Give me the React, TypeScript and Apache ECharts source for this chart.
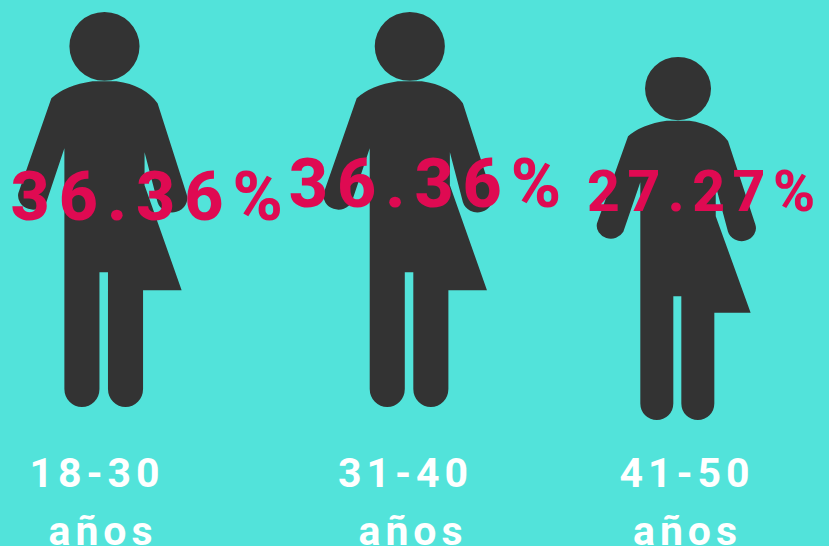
import React, { useEffect, useRef } from "react";
import * as echarts from "echarts";

const ageGroups = ["18-30", "31-40", "41-50"];
const unitLabel = "años";
const shares = [36.36, 36.36, 27.27];

const BG = "#52E3DA";
const FIGURE = "#333333";
const PINK = "#DF0A52";

const PERSON =
  "path://M140,46 A35,34.5 0 1 1 70,46 A35,34.5 0 1 1 140,46 Z " +
  "M93,81 L117,81 Q145,85 158,103 L187,194 A15,14 0 0 1 158,202 L145,152 L145,185 L182,290 L143.5,290 L143.5,389 " +
  "A17.5,18 0 0 1 108.5,389 L108.5,272 L100,272 L100,389 A17.5,18 0 0 1 65,389 L65,148 L47,202 " +
  "A15,14 0 0 1 19,193 L52,98 Q66,85 93,81 Z";

const figureW = [169, 169, 159];
const figureH = [395, 395, 363];
const figureDx = [-35.5, -6.5, -14.5];
const figureDy = [0, 0, 13];
const labelSize = [68, 68, 57];
const labelSpacing = [9, 9, 7.5];
const labelDx = [13, 15, 14];
const labelDy = [-13, -26, -41];
const line1X = [97, 405.5, 687];
const line2X = [103, 413, 687.5];

export default function App() {
  const ref = useRef<HTMLDivElement>(null);
  useEffect(() => {
    document.body.style.margin = "0";
    const chart = echarts.init(ref.current!, null, { renderer: "svg" });
    const textStyle = {
      fill: "#FFFFFF",
      fontFamily: "Roboto",
      fontWeight: 700,
      fontSize: 41,
      textAlign: "center",
    };
    chart.setOption({
      animation: false,
      backgroundColor: BG,
      grid: { left: 0, right: 0, top: 0, bottom: 139 },
      xAxis: { type: "category", data: ageGroups, show: false },
      yAxis: { type: "value", min: 0, max: 40, show: false },
      series: [
        {
          type: "pictorialBar",
          symbol: PERSON,
          symbolPosition: "start",
          barWidth: "60%",
          data: shares.map((v, i) => ({
            value: v,
            symbolSize: [figureW[i], figureH[i]],
            symbolOffset: [figureDx[i], figureDy[i]],
            itemStyle: { color: FIGURE },
            label: {
              show: true,
              position: "inside",
              formatter: () => v.toFixed(2) + "%",
              color: PINK,
              fontFamily: "Roboto",
              fontWeight: 800,
              fontSize: labelSize[i],
              offset: [labelDx[i], labelDy[i]],
            },
          })),
        },
      ],
      graphic: [
        ...ageGroups.map((t, i) => ({
          type: "text",
          x: line1X[i],
          y: 452.5,
          style: { ...textStyle, text: t },
        })),
        ...ageGroups.map((_, i) => ({
          type: "text",
          x: line2X[i],
          y: 510.5,
          style: { ...textStyle, text: unitLabel },
        })),
      ],
    });
    let pct = 0;
    ref.current!.querySelectorAll("text").forEach((el) => {
      const t = el.textContent || "";
      const isPct = t.endsWith("%");
      (el as SVGTextElement).style.letterSpacing = isPct ? `${labelSpacing[pct++] ?? 8}px` : "5px";
    });
    return () => chart.dispose();
  }, []);
  return <div ref={ref} style={{ width: 829, height: 546 }} />;
}
